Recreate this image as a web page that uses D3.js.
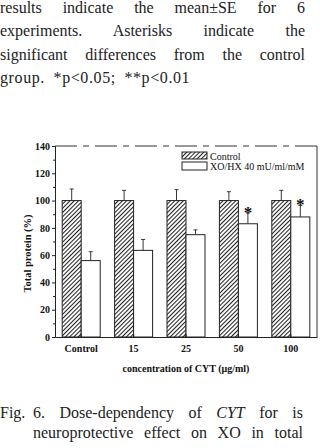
<!DOCTYPE html>
<html>
<head>
<meta charset="utf-8">
<script src="https://cdn.jsdelivr.net/npm/d3@7"></script>
<style>
  body { margin: 0; width: 320px; height: 448px; background: #fff; overflow: hidden; position: relative; }
  .ln { position: absolute; font-family: "Liberation Serif", serif; font-size: 16px; color: #222;
        white-space: nowrap; line-height: 20px; }
  .just { text-align: justify; text-align-last: justify; white-space: normal; }
  svg { position: absolute; left: 0; top: 0; }
</style>
</head>
<body>
<div class="ln just" style="left:0px; top:-2px; width:305px;">results indicate the mean±SE for 6</div>
<div class="ln just" style="left:0px; top:21px; width:305px;">experiments. Asterisks indicate the</div>
<div class="ln just" style="left:0px; top:45px; width:305px;">significant differences from the control</div>
<div class="ln" style="left:0px; top:68px; letter-spacing:0.6px; word-spacing:4px;">group. *p&lt;0.05; **p&lt;0.01</div>

<div class="ln" style="left:0px; top:403px;">Fig.</div>
<div class="ln just" style="left:33px; top:403px; width:270px;">6. Dose-dependency of <i>CYT</i> for is</div>
<div class="ln just" style="left:33px; top:423px; width:270px;">neuroprotective effect on XO in total</div>

<script>
const categories = ["Control", "15", "25", "50", "100"];
const controlMean = [100, 100, 100, 100, 100];
const controlSE = [8.5, 7.5, 8, 6.5, 7.5];
const xoMean = [56, 63.5, 75, 83, 88];
const xoSE = [6.5, 8, 3.5, 8, 8.5];
const signif = ["", "", "", "*", "*"];
const yTicks = [0, 20, 40, 60, 80, 100, 120, 140];
const seriesNames = ["Control", "XO/HX 40 mU/ml/mM"];

const width = 320;
const height = 448;
const mLeft = 55, mRight = 317, mTop = 146, mBottom = 337;
const font = "Liberation Serif";

const svg = d3
  .select("body")
  .append("svg")
  .attr("width", width)
  .attr("height", height);

// hatch for control bars
svg
  .append("defs")
  .append("pattern")
  .attr("id", "hatch")
  .attr("patternUnits", "userSpaceOnUse")
  .attr("width", 3)
  .attr("height", 3)
  .attr("patternTransform", "rotate(45)")
  .append("line")
  .attr("x1", 0.5).attr("y1", 0)
  .attr("x2", 0.5).attr("y2", 3)
  .attr("stroke", "#222")
  .attr("stroke-width", 1.1);

const x0 = d3
  .scaleBand()
  .domain(categories)
  .range([mLeft, mRight])
  .paddingInner(0.275)
  .paddingOuter(0.1375);
const x1 = d3.scaleBand().domain(["c", "x"]).range([0, x0.bandwidth()]);
const y = d3.scaleLinear().domain([0, 140]).range([mBottom, mTop]);

const rows = categories.map((c, i) => ({
  cat: c,
  vals: [
    { k: "c", m: controlMean[i], se: controlSE[i], s: "" },
    { k: "x", m: xoMean[i], se: xoSE[i], s: signif[i] },
  ],
}));

const g = svg
  .selectAll(".grp")
  .data(rows)
  .enter()
  .append("g")
  .attr("class", "grp")
  .attr("transform", (d) => `translate(${x0(d.cat)},0)`);

const bar = g
  .selectAll(".b")
  .data((d) => d.vals)
  .enter()
  .append("g")
  .attr("class", "b");

// error bars (upper only)
bar
  .append("line")
  .attr("x1", (d) => x1(d.k) + x1.bandwidth() / 2)
  .attr("x2", (d) => x1(d.k) + x1.bandwidth() / 2)
  .attr("y1", (d) => y(d.m))
  .attr("y2", (d) => y(d.m + d.se))
  .attr("stroke", "#222")
  .attr("stroke-width", 0.9);
bar
  .append("line")
  .attr("x1", (d) => x1(d.k) + x1.bandwidth() / 2 - 2)
  .attr("x2", (d) => x1(d.k) + x1.bandwidth() / 2 + 2)
  .attr("y1", (d) => y(d.m + d.se))
  .attr("y2", (d) => y(d.m + d.se))
  .attr("stroke", "#222")
  .attr("stroke-width", 0.9);

bar
  .append("rect")
  .attr("x", (d) => x1(d.k))
  .attr("y", (d) => y(d.m))
  .attr("width", x1.bandwidth())
  .attr("height", (d) => y(0) - y(d.m))
  .attr("fill", (d) => (d.k === "c" ? "url(#hatch)" : "#fff"))
  .attr("stroke", "#222")
  .attr("stroke-width", 1);

bar
  .filter((d) => d.s)
  .append("text")
  .attr("x", (d) => x1(d.k) + x1.bandwidth() / 2)
  .attr("y", (d) => y(d.m + d.se) + 5)
  .attr("text-anchor", "middle")
  .attr("font-family", font)
  .attr("font-weight", "bold")
  .attr("font-size", 17)
  .attr("fill", "#111")
  .text((d) => d.s);

// frame: dashed top, right side
svg
  .append("line")
  .attr("x1", mLeft).attr("x2", mRight)
  .attr("y1", y(140)).attr("y2", y(140))
  .attr("stroke", "#333")
  .attr("stroke-dasharray", "22,6,6,6");
svg
  .append("line")
  .attr("x1", mRight).attr("x2", mRight)
  .attr("y1", y(140)).attr("y2", y(0))
  .attr("stroke", "#333");

// y axis
const yAxis = svg
  .append("g")
  .attr("transform", `translate(${mLeft},0)`)
  .call(d3.axisLeft(y).tickValues(yTicks).tickSize(3).tickPadding(2));
svg
  .append("g")
  .attr("transform", `translate(${mLeft},0)`)
  .call(d3.axisLeft(y).tickValues(d3.range(10, 140, 20)).tickSize(2).tickFormat(""))
  .select(".domain")
  .remove();
yAxis
  .selectAll("text")
  .attr("font-family", font)
  .attr("font-weight", "bold")
  .attr("font-size", 10)
  .attr("fill", "#111");

// x axis
const xAxis = svg
  .append("g")
  .attr("transform", `translate(0,${mBottom})`)
  .call(d3.axisBottom(x0).tickSize(-3).tickSizeOuter(0).tickPadding(8));
xAxis
  .selectAll("text")
  .attr("font-family", font)
  .attr("font-weight", "bold")
  .attr("font-size", 10)
  .attr("fill", "#111");
svg.selectAll(".domain, .tick line").attr("stroke", "#222");

svg
  .append("text")
  .attr("transform", `translate(31,${(mTop + mBottom) / 2 + 12}) rotate(-90)`)
  .attr("text-anchor", "middle")
  .attr("font-family", font)
  .attr("font-weight", "bold")
  .attr("font-size", 10.5)
  .attr("fill", "#111")
  .text("Total protein (%)");

svg
  .append("text")
  .attr("x", (mLeft + mRight) / 2)
  .attr("y", 372)
  .attr("text-anchor", "middle")
  .attr("font-family", font)
  .attr("font-weight", "bold")
  .attr("font-size", 10)
  .attr("fill", "#111")
  .text("concentration of CYT (μg/ml)");

// legend
const leg = svg
  .selectAll(".leg")
  .data(seriesNames)
  .enter()
  .append("g")
  .attr("class", "leg")
  .attr("transform", (d, i) => `translate(182,${152 + i * 10})`);
leg
  .append("rect")
  .attr("width", 25)
  .attr("height", (d, i) => (i === 0 ? 7 : 8))
  .attr("fill", (d, i) => (i === 0 ? "url(#hatch)" : "#fff"))
  .attr("stroke", "#222");
leg
  .append("text")
  .attr("x", 28)
  .attr("y", 7.5)
  .attr("font-family", font)
  .attr("font-size", 10)
  .attr("fill", "#111")
  .text((d) => d);
</script>
</body>
</html>
